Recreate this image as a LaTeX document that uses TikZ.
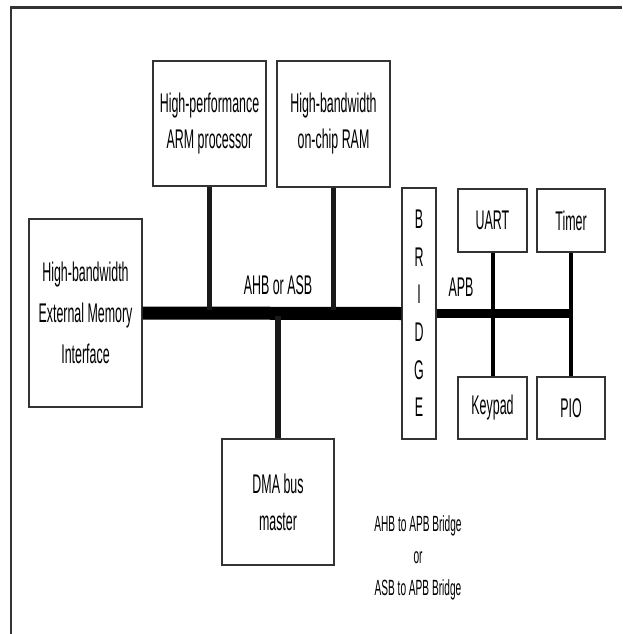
\documentclass[tikz,border=0pt]{standalone}
\usepackage{fontspec}
\setmainfont{Liberation Sans}[FakeStretch=0.46]
\begin{document}
\begin{tikzpicture}[x=1pt,y=-1pt,
  box/.style={draw=black!80,line width=1.4pt,fill=white,inner sep=0pt,align=center,
    font=\fontsize{27}{36}\selectfont},
  smallbox/.style={box,font=\fontsize{27}{30}\selectfont},
  bus/.style={line width=13pt,black},
  conn/.style={line width=5.5pt,black!90},
  thin/.style={line width=4pt,black},
  apb/.style={line width=9pt,black},
  lbl/.style={inner sep=0pt,align=center,font=\fontsize{27}{30}\selectfont},
  note/.style={inner sep=0pt,align=center,font=\fontsize{22}{32}\selectfont}]
\useasboundingbox (0,0) rectangle (622,634);
% frame
\draw[black!80,line width=3pt] (10,8) -- (622,8);
\draw[black!80,line width=2pt] (10.5,8) -- (10.5,634);
% boxes
\node[box,minimum width=113pt,minimum height=125pt] (arm) at (209.5,123.5) {High-performance\\ARM processor};
\node[box,minimum width=113pt,minimum height=126pt] (ram) at (333.5,124) {High-bandwidth\\on-chip RAM};
\node[box,minimum width=113pt,minimum height=188pt,font=\fontsize{27}{41}\selectfont] (ext) at (85.5,313) {High-bandwidth\\External Memory\\Interface};
\node[box,minimum width=112pt,minimum height=126pt,font=\fontsize{27}{37}\selectfont] (dma) at (278,502) {DMA bus\\master};
\node[box,minimum width=34pt,minimum height=251pt,font=\fontsize{27}{37.6}\selectfont] (bridge) at (419,313.5) {B\\R\\I\\D\\G\\E};
\node[smallbox,minimum width=69pt,minimum height=63pt] (uart) at (492.5,220.5) {UART};
\node[smallbox,minimum width=68pt,minimum height=63pt] (timer) at (571,220.5) {Timer};
\node[smallbox,minimum width=69pt,minimum height=62pt] (keypad) at (492.5,408) {Keypad};
\node[smallbox,minimum width=68pt,minimum height=62pt] (pio) at (571,408) {PIO};
% buses
\draw[bus] (ext.east) -- (bridge.west);
\draw[conn] (arm.south) -- ([yshift=3pt]arm.south |- ext.east);
\draw[conn] (ram.south) -- ([yshift=3pt]ram.south |- ext.east);
\draw[conn] (dma.north) -- ([yshift=-3pt]dma.north |- ext.east);
\draw[apb] (bridge.east) -- ([xshift=2pt]timer.south |- bridge.east);
\draw[thin] (uart.south) -- (keypad.north);
\draw[thin] (timer.south) -- (pio.north);
% labels
\node[lbl] (ahb) at (278,285.5) {AHB or ASB};
\node[lbl] (apblbl) at (461,287) {APB};
\node[note] (notes) at (418,558) {AHB to APB Bridge\\or\\ASB to APB Bridge};
\end{tikzpicture}
\end{document}
